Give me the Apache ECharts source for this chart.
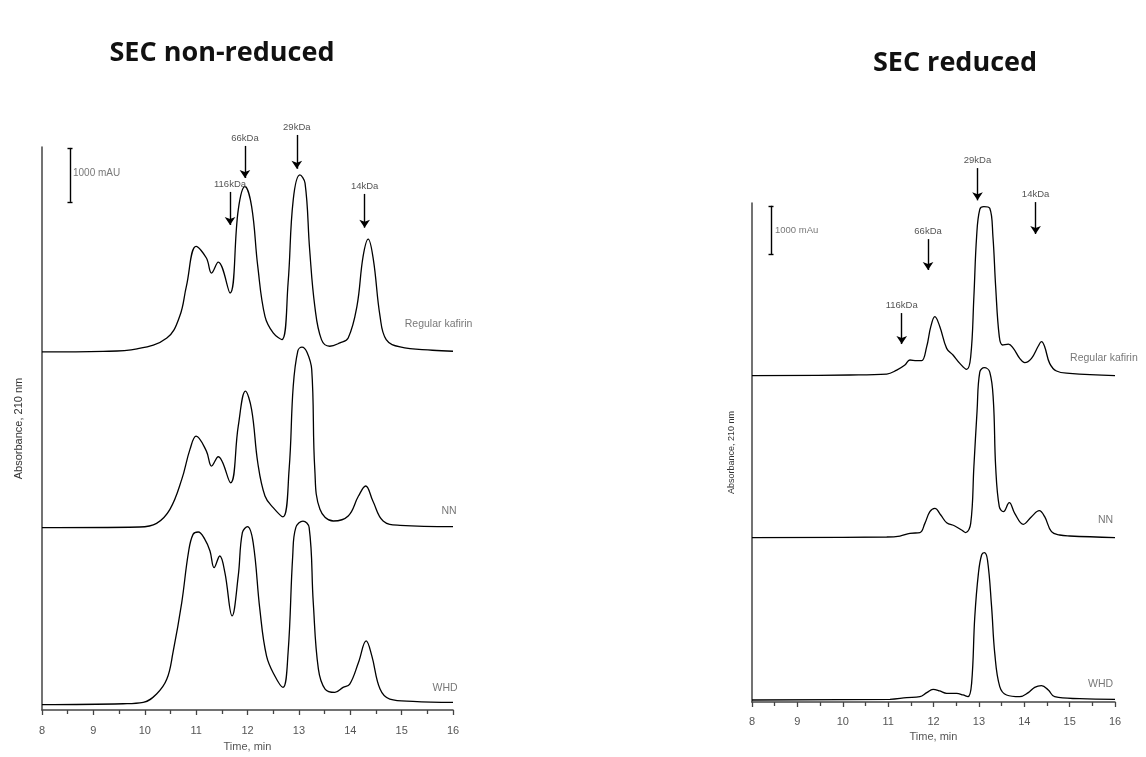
<!DOCTYPE html>
<html><head><meta charset="utf-8">
<script src="https://cdn.jsdelivr.net/npm/echarts@6/dist/echarts.min.js"></script>
<style>html,body{margin:0;padding:0;background:#fff}#c{width:1146px;height:757px}</style>
</head><body><div id="c"></div>
<script>
// ---------- DATA ----------
const panelTitles = ['SEC non-reduced', 'SEC reduced'];
const traceNames = ['Regular kafirin', 'NN', 'WHD'];
const xMin = 8, xMax = 16;
// Time (min) vs absorbance above trace baseline (mAU)
const nrRegular = [[8,0],[9.19,10],[9.85,56],[10.43,259],[10.68,660],[10.81,1216],[11.0,1957],[11.2,1741],[11.3,1463],[11.43,1667],[11.66,1093],[11.82,2636],[11.95,3068],[12.08,2698],[12.2,1586],[12.34,660],[12.5,352],[12.67,228],[12.79,1278],[12.89,2821],[13.02,3284],[13.12,3130],[13.21,1895],[13.31,846],[13.44,228],[13.6,105],[13.8,167],[13.96,259],[14.13,846],[14.25,1772],[14.35,2093],[14.45,1710],[14.58,660],[14.7,228],[14.97,93],[15.6,31],[16,12]];
const nrNN = [[8,0],[9.9,12],[10.23,80],[10.49,340],[10.72,895],[10.88,1451],[11.0,1698],[11.2,1420],[11.3,1142],[11.43,1315],[11.67,833],[11.82,1883],[11.96,2531],[12.08,2191],[12.2,1204],[12.34,586],[12.5,370],[12.69,198],[12.81,1080],[12.89,2623],[12.98,3280],[13.06,3350],[13.16,3250],[13.25,2932],[13.31,1080],[13.41,340],[13.67,123],[13.96,216],[14.16,586],[14.3,772],[14.44,494],[14.64,123],[14.97,43],[16,19]];
const nrWHD = [[8,0],[9.58,18],[9.97,43],[10.23,198],[10.43,475],[10.55,969],[10.72,1895],[10.85,2821],[10.94,3160],[11.04,3204],[11.17,3068],[11.27,2852],[11.35,2543],[11.46,2759],[11.56,2451],[11.7,1648],[11.82,2389],[11.9,3191],[12.0,3303],[12.11,3006],[12.24,1772],[12.37,907],[12.53,537],[12.69,321],[12.79,969],[12.88,2759],[12.94,3284],[13.08,3407],[13.2,3284],[13.28,1895],[13.38,660],[13.51,290],[13.7,228],[13.86,321],[13.99,383],[14.16,784],[14.31,1185],[14.42,907],[14.58,290],[14.77,105],[15.22,62],[16,43]];
const rRegular = [[8,0],[10.16,14],[10.97,34],[11.19,116],[11.37,219],[11.48,322],[11.63,308],[11.74,308],[11.85,596],[11.94,1006],[12.03,1212],[12.14,1006],[12.29,561],[12.43,424],[12.58,253],[12.73,130],[12.82,390],[12.89,1622],[12.95,2854],[13.02,3416],[13.11,3470],[13.24,3436],[13.31,2854],[13.37,1828],[13.45,801],[13.52,630],[13.65,650],[13.76,561],[13.9,356],[14.01,267],[14.16,356],[14.31,609],[14.38,698],[14.45,596],[14.56,253],[14.71,96],[15.0,48],[16,0]];
const rNN = [[8,0],[10.97,14],[11.26,34],[11.48,89],[11.7,103],[11.81,294],[11.92,534],[12.03,602],[12.16,465],[12.29,308],[12.47,240],[12.62,157],[12.71,103],[12.82,294],[12.89,1458],[12.96,2600],[13.02,3400],[13.12,3491],[13.24,3400],[13.32,2800],[13.37,1458],[13.45,637],[13.54,534],[13.67,719],[13.79,500],[13.98,274],[14.16,431],[14.33,554],[14.45,431],[14.6,123],[14.78,55],[15.0,34],[16,0]];
const rWHD = [[8,0],[11.04,14],[11.41,48],[11.7,68],[11.85,151],[11.99,219],[12.14,185],[12.29,137],[12.51,137],[12.65,103],[12.76,68],[12.84,342],[12.91,1711],[12.99,2601],[13.06,2978],[13.12,3025],[13.19,2875],[13.28,1917],[13.35,958],[13.46,274],[13.61,103],[13.9,68],[14.09,151],[14.23,260],[14.38,294],[14.53,205],[14.67,68],[15.22,27],[16,14]];
// Molecular weight markers: label, time (min)
const mwLabels = ['116kDa', '66kDa', '29kDa', '14kDa'];
const nrMarkerTimes = [11.66, 11.95, 12.96, 14.28];
const rMarkerTimes = [11.30, 11.88, 12.97, 14.25];
const scaleLabels = ['1000 mAU', '1000 mAu'];
const scaleValue = 1000;

// ---------- LAYOUT (positions / styles) ----------
const nrOffsets = [6643, 3383, 98];
const rOffsets = [6700, 3374, 41];
// arrow start/end (mAU, absolute on panel axis)
const nrArrowY = [[9612, 9000], [10464, 9870], [10667, 10040], [9575, 8950]];
const rArrowY = [[7986, 7350], [9505, 8870], [10963, 10300], [10265, 9610]];
// trace-name label positions [t, mAU, align]
const nrNamePos = [[15.06, 7167, 'left'], [16.07, 3704, 'right'], [16.09, 426, 'right']];
const rNamePos = [[15.01, 7062, 'left'], [15.96, 3736, 'right'], [15.96, 370, 'right']];
const nrScale = { t: 8.545, top: 10427, half: 0.049, labelT: 8.603, labelV: 9964 };
const rScale = { t: 8.419, top: 10189, half: 0.055, labelT: 8.507, labelV: 9690 };

const panels = [
  { left: 42, top: 147, width: 411, height: 564, yMax: 10444, overTop: 100, overXMax: 17 },
  { left: 752, top: 203, width: 363, height: 499, yMax: 10246, overTop: 140, overXMax: 16.6 }
];

const axisColor = '#444';
const textColor = '#555';
const fontFam = 'Liberation Sans, Arial, sans-serif';

function shift(data, off) { return data.map(p => [p[0], p[1] + off]); }

function xAxisCfg(gi, nameGap, margin) {
  return {
    type: 'value', gridIndex: gi, min: xMin, max: xMax, interval: 1,
    name: 'Time, min', nameLocation: 'middle', nameGap: nameGap,
    nameTextStyle: { color: textColor, fontSize: 11, fontFamily: fontFam },
    axisLine: { show: true, onZero: false, lineStyle: { color: axisColor, width: 1.5 } },
    axisTick: { show: true, inside: false, length: 5, lineStyle: { color: axisColor, width: 1.3 } },
    minorTick: { show: true, splitNumber: 2, length: 4, lineStyle: { color: axisColor, width: 1.3 } },
    splitLine: { show: false },
    axisLabel: { color: textColor, fontSize: 11, margin: margin, fontFamily: fontFam }
  };
}
function yAxisCfg(gi, max, nameGap, fs) {
  return {
    type: 'value', gridIndex: gi, min: 0, max: max,
    name: 'Absorbance, 210 nm', nameLocation: 'middle', nameGap: nameGap, nameRotate: 90,
    nameTextStyle: { color: '#333', fontSize: fs, fontFamily: fontFam },
    axisLine: { show: true, onZero: false, lineStyle: { color: axisColor, width: 1.5 } },
    axisTick: { show: false }, axisLabel: { show: false }, splitLine: { show: false }
  };
}
function hiddenAxis(gi, min, max) {
  return { type: 'value', gridIndex: gi, min: min, max: max, show: false,
    axisLine: { show: false }, axisTick: { show: false }, axisLabel: { show: false }, splitLine: { show: false } };
}

function textItem(t, v, text, align, fs) {
  return {
    value: [t, v],
    label: { show: true, position: 'inside', align: align, verticalAlign: 'middle',
      formatter: text, color: textColor, fontSize: fs, fontFamily: fontFam }
  };
}

function annotationSeries(gi, times, ys, namePos, sc, scaleLabel, nameFs, scaleFs) {
  const items = namePos.map((p, i) => textItem(p[0], p[1], traceNames[i], p[2], nameFs));
  items.push(textItem(sc.labelT, sc.labelV, scaleLabel, 'left', scaleFs));
  const bot = sc.top - scaleValue;
  const lineData = times.map((t, i) => [
    { name: mwLabels[i], coord: [t, ys[i][0]], symbol: 'none' },
    { coord: [t, ys[i][1]], symbol: 'arrow', symbolSize: 8 }
  ]);
  const plain = { label: { show: false } };
  lineData.push(
    [Object.assign({ coord: [sc.t, sc.top], symbol: 'none' }, plain), { coord: [sc.t, bot], symbol: 'none' }],
    [Object.assign({ coord: [sc.t - sc.half, sc.top], symbol: 'none' }, plain), { coord: [sc.t + sc.half, sc.top], symbol: 'none' }],
    [Object.assign({ coord: [sc.t - sc.half, bot], symbol: 'none' }, plain), { coord: [sc.t + sc.half, bot], symbol: 'none' }]
  );
  return {
    type: 'scatter', xAxisIndex: gi, yAxisIndex: gi, data: items,
    symbolSize: 1, itemStyle: { color: 'rgba(0,0,0,0)' }, silent: true, animation: false,
    emphasis: { disabled: true },
    markLine: {
      silent: true, animation: false, emphasis: { disabled: true },
      lineStyle: { color: '#000', width: 1.4, type: 'solid' },
      label: { show: true, position: 'start', formatter: '{b}', color: textColor, fontSize: 9.5, distance: 3, fontFamily: fontFam },
      data: lineData
    }
  };
}

function line(name, data, gi) {
  return {
    type: 'line', name: name, xAxisIndex: gi, yAxisIndex: gi, data: data,
    showSymbol: false, smooth: 0.4, clip: false,
    lineStyle: { color: '#000', width: 1.3 }, itemStyle: { color: '#000' },
    emphasis: { disabled: true }, animation: false
  };
}

// overlay grids (same scale, extended range) for annotations
const overlays = panels.map(p => {
  const pxPerUnitY = p.height / p.yMax;
  const bottom = p.top + p.height;
  const yMaxO = (bottom - p.overTop) / pxPerUnitY;
  const width = p.width * (p.overXMax - xMin) / (xMax - xMin);
  return { grid: { left: p.left, top: p.overTop, width: width, height: bottom - p.overTop }, yMax: yMaxO, xMaxO: p.overXMax };
});

const series = [
  line(traceNames[0], shift(nrRegular, nrOffsets[0]), 0),
  line(traceNames[1], shift(nrNN, nrOffsets[1]), 0),
  line(traceNames[2], shift(nrWHD, nrOffsets[2]), 0),
  line(traceNames[0], shift(rRegular, rOffsets[0]), 1),
  line(traceNames[1], shift(rNN, rOffsets[1]), 1),
  line(traceNames[2], shift(rWHD, rOffsets[2]), 1),
  annotationSeries(2, nrMarkerTimes, nrArrowY, nrNamePos, nrScale, scaleLabels[0], 10.5, 10),
  annotationSeries(3, rMarkerTimes, rArrowY, rNamePos, rScale, scaleLabels[1], 10.5, 9.5)
];

const chart = echarts.init(document.getElementById('c'), null, { renderer: 'canvas' });
chart.setOption({
  backgroundColor: '#fff',
  animation: false,
  title: [
    { text: panelTitles[0], left: 217, top: 35, textAlign: 'center',
      textStyle: { fontFamily: 'Open Sans, sans-serif', fontWeight: 'bold', fontSize: 27, color: '#111' } },
    { text: panelTitles[1], left: 950, top: 45, textAlign: 'center',
      textStyle: { fontFamily: 'Open Sans, sans-serif', fontWeight: 'bold', fontSize: 27, color: '#111' } }
  ],
  grid: [
    { left: panels[0].left, top: panels[0].top, width: panels[0].width, height: panels[0].height },
    { left: panels[1].left, top: panels[1].top, width: panels[1].width, height: panels[1].height },
    overlays[0].grid, overlays[1].grid
  ],
  xAxis: [xAxisCfg(0, 31, 15), xAxisCfg(1, 27, 14),
          hiddenAxis(2, xMin, overlays[0].xMaxO), hiddenAxis(3, xMin, overlays[1].xMaxO)],
  yAxis: [yAxisCfg(0, panels[0].yMax, 18, 11), yAxisCfg(1, panels[1].yMax, 16, 9),
          hiddenAxis(2, 0, overlays[0].yMax), hiddenAxis(3, 0, overlays[1].yMax)],
  series: series
});
</script>
</body></html>
